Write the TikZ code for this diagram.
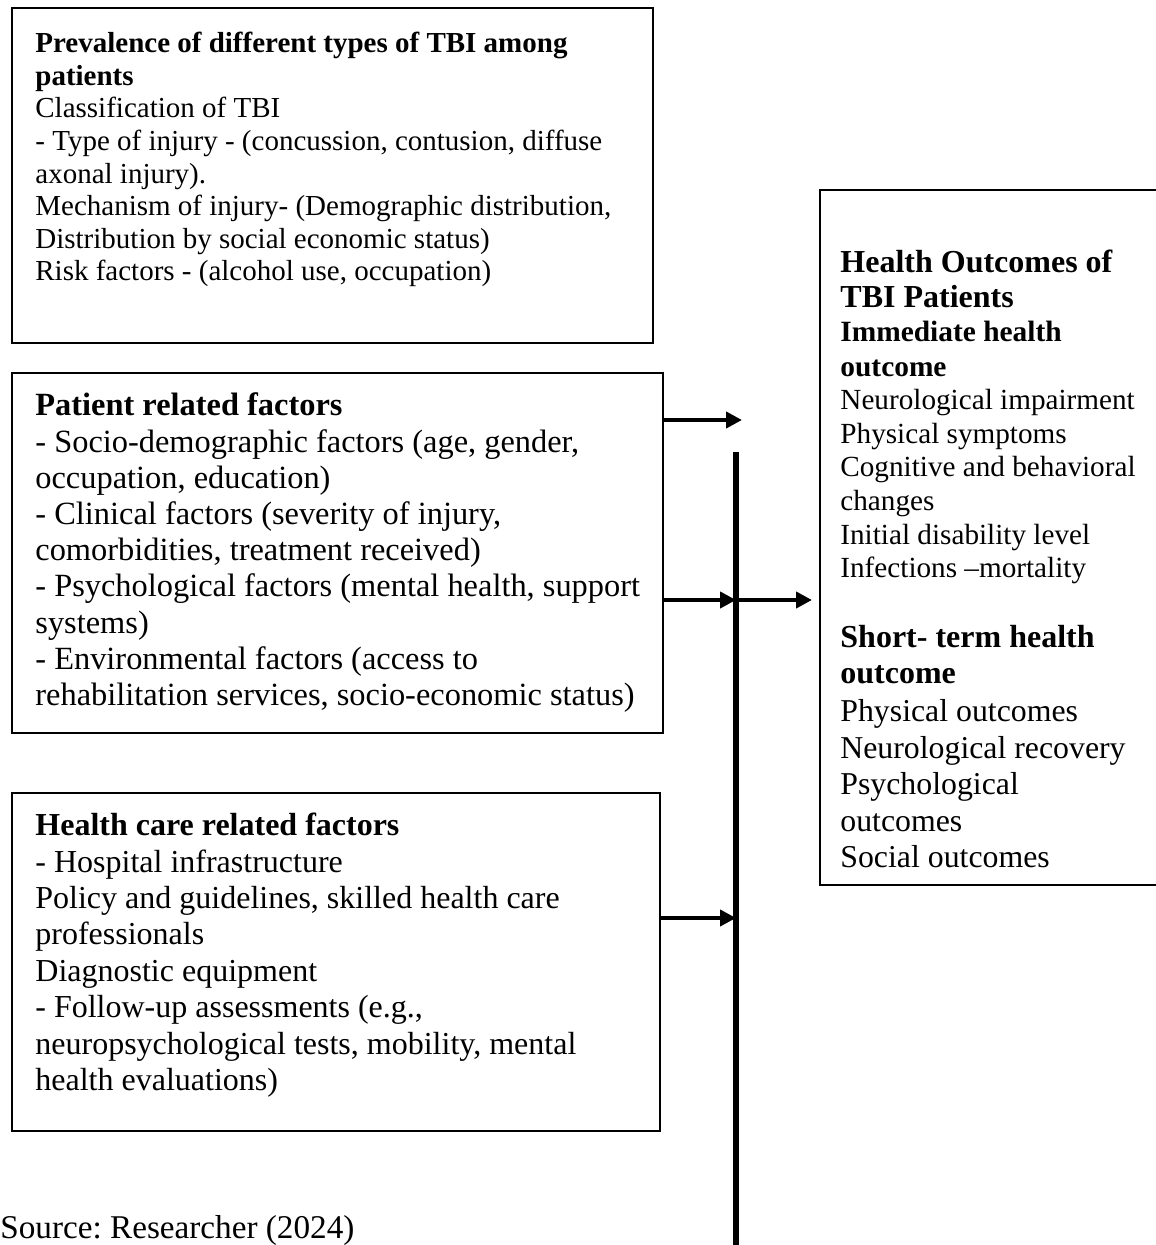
\documentclass[tikz,border=0pt]{standalone}
\usepackage{fontspec}
\setmainfont{Liberation Serif}
\usetikzlibrary{arrows.meta}
\frenchspacing
\begin{document}
\begin{tikzpicture}[x=0.5pt,y=-0.5pt,
  box/.style={draw,line width=1pt,inner sep=0pt},
  txt/.style={inner sep=0pt,align=left,anchor=base west},
  arr/.style={line width=2pt,-{Triangle[length=8pt,width=8pt]}},
  bus/.style={line width=3pt}]
\useasboundingbox (0,0) rectangle (1155,1245);
% boxes
\node[box,minimum width=320.5pt,minimum height=167.5pt] (b1) at (332.5,175.5) {};
\node[box,minimum width=325.5pt,minimum height=180pt] (b2) at (337.5,553) {};
\node[box,minimum width=324pt,minimum height=169pt] (b3) at (336,962) {};
\node[box,minimum width=170pt,minimum height=347.5pt] (b4) at (989.5,537.5) {};
% texts (anchored at the baseline of their last line)
\node[txt,font={\fontsize{14.5}{16.3}\selectfont}] (t1) at (35,281)
 {\textbf{Prevalence of different types of TBI among}\\\textbf{patients}\\Classification of TBI\\- Type of injury - (concussion, contusion, diffuse\\axonal injury).\\Mechanism of injury- (Demographic distribution,\\Distribution by social economic status)\\Risk factors - (alcohol use, occupation)};
\node[txt,font={\fontsize{16.2}{18.1}\selectfont}] (t2) at (35,705.5)
 {\textbf{Patient related factors}\\- Socio-demographic factors (age, gender,\\occupation, education)\\- Clinical factors (severity of injury,\\comorbidities, treatment received)\\- Psychological factors (mental health, support\\systems)\\- Environmental factors (access to\\rehabilitation services, socio-economic status)};
\node[txt,font={\fontsize{16}{18.2}\selectfont}] (t3) at (35,1090.5)
 {\textbf{Health care related factors}\\- Hospital infrastructure\\Policy and guidelines, skilled health care\\professionals\\Diagnostic equipment\\- Follow-up assessments (e.g.,\\neuropsychological tests, mobility, mental\\health evaluations)};
\node[txt,font={\fontsize{16}{17.5}\selectfont\bfseries}] (t4a) at (840,307.5)
 {Health Outcomes of\\TBI Patients};
\node[txt,font={\fontsize{14.7}{17.5}\selectfont\bfseries}] (t4b) at (840,376.7)
 {Immediate health\\outcome};
\node[txt,font={\fontsize{14.6}{16.8}\selectfont}] (t4c) at (840,577.6)
 {Neurological impairment\\Physical symptoms\\Cognitive and behavioral\\changes\\Initial disability level\\Infections –mortality};
\node[txt,font={\fontsize{16}{18}\selectfont\bfseries}] (t4d) at (840,683.5)
 {Short- term health\\outcome};
\node[txt,font={\fontsize{15.9}{18.25}\selectfont}] (t4e) at (840,867.5)
 {Physical outcomes\\Neurological recovery\\Psychological\\outcomes\\Social outcomes};
\node[txt,font={\fontsize{16.6}{17}\selectfont}] (src) at (0,1238.5) {Source: Researcher (2024)};
% connectors
\coordinate (bt) at (736,452);
\coordinate (bb) at (736,1248);
\coordinate (a1) at (742,420);
\coordinate (j2) at (736,600);
\coordinate (j3) at (736,918);
\coordinate (a4) at (812,600);
\draw[bus] (bt) -- (bb);
\draw[arr] (b2.east |- a1) -- (a1);
\draw[arr] (b2.east |- j2) -- (j2);
\draw[arr] (j2) -- (a4);
\draw[arr] (b3.east |- j3) -- (j3);
\end{tikzpicture}
\end{document}
